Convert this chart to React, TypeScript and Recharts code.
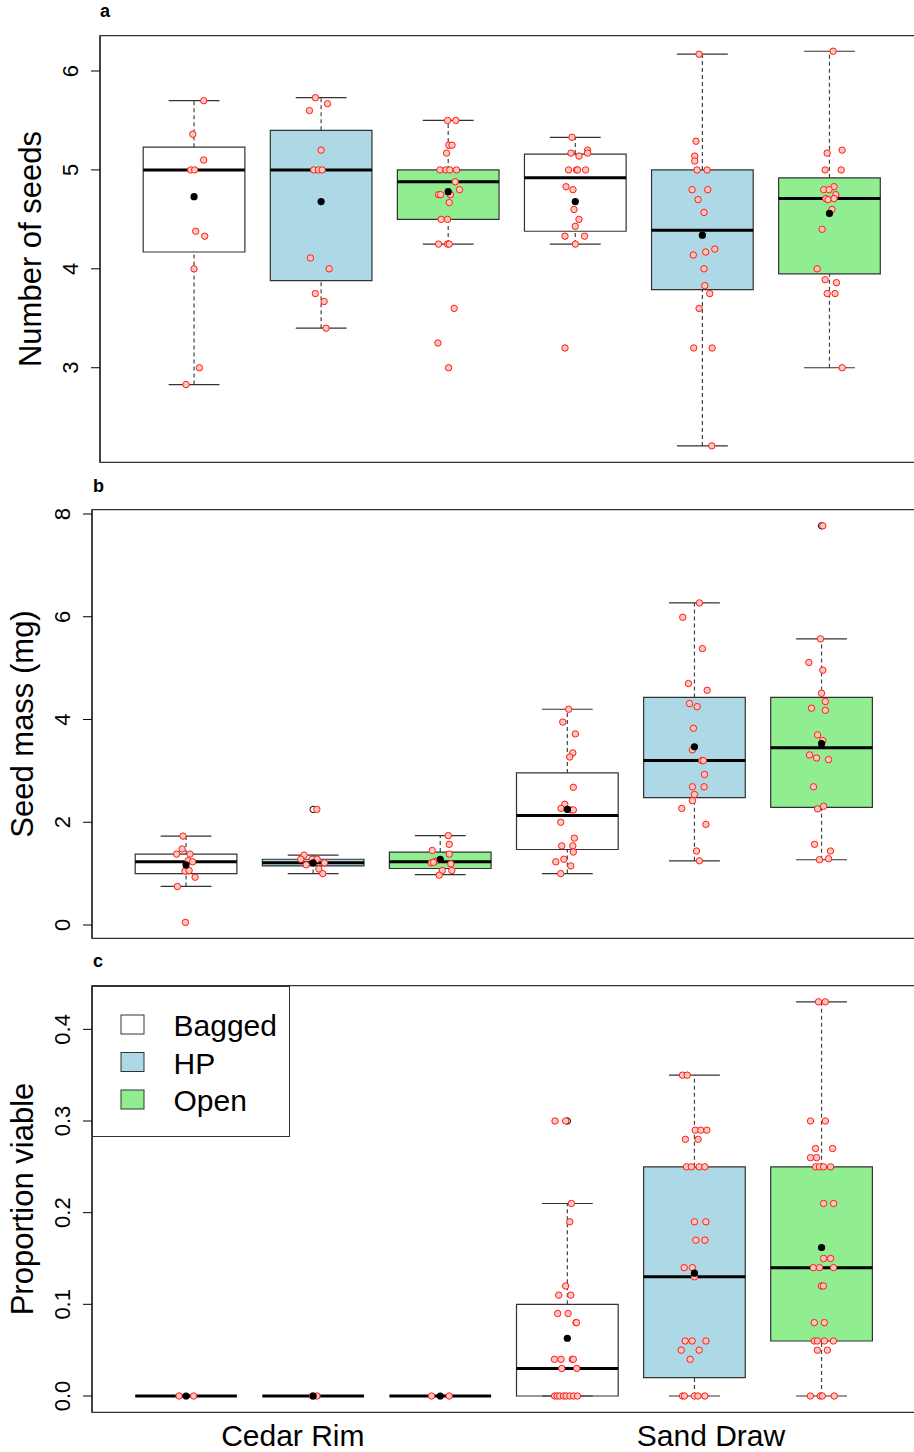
import React from "react";
import {
  ComposedChart,
  XAxis,
  YAxis,
  Scatter,
  ReferenceArea,
  ReferenceLine,
  Legend,
} from "recharts";

const FONT = "'Liberation Sans', Arial, Helvetica, sans-serif";

// ---------- shared ----------
const groupFills = ["#FFFFFF", "#ADD8E6", "#90EE90", "#FFFFFF", "#ADD8E6", "#90EE90"];
const legendLabels = ["Bagged", "HP", "Open"];
const legendFills = ["#FFFFFF", "#ADD8E6", "#90EE90"];
const siteLabels = ["Cedar Rim", "Sand Draw"];
const sitePositions = [1.84, 5.13];
const xDomain = [0.26, 6.74];
const panelLetters = ["a", "b", "c"];

// ---------- panel a : Number of seeds ----------
const aMin = [2.83, 3.4, 4.25, 4.25, 2.21, 3.0];
const aQ1 = [4.17, 3.88, 4.5, 4.38, 3.79, 3.95];
const aMed = [5.0, 5.0, 4.88, 4.92, 4.39, 4.71];
const aQ3 = [5.23, 5.4, 5.0, 5.16, 5.0, 4.92];
const aMax = [5.7, 5.73, 5.5, 5.33, 6.17, 6.2];
const aMean = [4.73, 4.68, 4.78, 4.68, 4.34, 4.56];
const aOutliers: number[][] = [];
const aTicks = [3, 4, 5, 6];
const aDomain = [2.044, 6.357];

const aPts1 = [[0.076, 5.7], [-0.01, 5.36], [0.076, 5.1], [-0.026, 5.0], [0.005, 5.0], [0.013, 4.38], [0.084, 4.33], [0, 4.0], [0.042, 3.0], [-0.063, 2.83]];
const aPts2 = [[-0.045, 5.73], [0.05, 5.67], [-0.092, 5.6], [0, 5.2], [-0.058, 5.0], [-0.021, 5.0], [0.008, 5.0], [-0.084, 4.11], [0.063, 4.0], [-0.045, 3.75], [0.024, 3.67], [0.039, 3.4]];
const aPts3 = [[-0.005, 5.5], [0.06, 5.5], [0.005, 5.25], [0.03, 5.25], [-0.013, 5.17], [-0.065, 5.0], [-0.018, 5.0], [0.013, 5.0], [0.065, 5.0], [0.055, 4.88], [0.089, 4.8], [-0.076, 4.75], [-0.06, 4.75], [0.018, 4.75], [0.008, 4.67], [-0.055, 4.5], [-0.005, 4.5], [-0.076, 4.25], [-0.005, 4.25], [0.008, 4.25], [0.047, 3.6], [-0.081, 3.25], [0.003, 3.0]];
const aPts4 = [[-0.026, 5.33], [-0.034, 5.17], [0.029, 5.14], [0.097, 5.2], [0.097, 5.17], [-0.053, 5.0], [0.01, 5.0], [0.018, 5.0], [0.081, 5.0], [-0.073, 4.83], [-0.018, 4.8], [-0.01, 4.6], [0.029, 4.5], [0, 4.43], [-0.081, 4.33], [0.073, 4.33], [0, 4.25], [-0.081, 3.2]];
const aPts5 = [[-0.026, 6.17], [-0.05, 5.29], [-0.06, 5.14], [-0.06, 5.09], [-0.042, 5.0], [0.037, 5.0], [-0.081, 4.8], [0.042, 4.8], [-0.034, 4.7], [0.013, 4.57], [0.098, 4.2], [0.026, 4.17], [-0.071, 4.14], [0.013, 4.0], [0.019, 3.83], [0.058, 3.75], [-0.026, 3.6], [-0.068, 3.2], [0.077, 3.2], [0.074, 2.21]];
const aPts6 = [[0.029, 6.2], [-0.018, 5.17], [0.1, 5.2], [-0.034, 5.0], [0.092, 5.0], [0.036, 4.83], [-0.045, 4.8], [-0.003, 4.8], [0.05, 4.75], [-0.029, 4.71], [-0.011, 4.7], [0.036, 4.71], [0.02, 4.6], [-0.058, 4.4], [-0.097, 4.0], [-0.034, 3.89], [0.055, 3.86], [-0.018, 3.75], [0.044, 3.75], [0.1, 3.0]];

// ---------- panel b : Seed mass ----------
const bMin = [0.75, 1.0, 0.98, 1.0, 1.25, 1.27];
const bQ1 = [1.0, 1.15, 1.1, 1.47, 2.48, 2.29];
const bMed = [1.23, 1.21, 1.23, 2.13, 3.2, 3.45];
const bQ3 = [1.38, 1.28, 1.42, 2.96, 4.43, 4.43];
const bMax = [1.73, 1.36, 1.74, 4.2, 6.27, 5.57];
const bMean = [1.17, 1.21, 1.28, 2.25, 3.47, 3.53];
const bOutliers = [[2, 2.25], [6, 7.77]];
const bTicks = [0, 2, 4, 6, 8];
const bDomain = [-0.259, 8.084];

const bPts1 = [[-0.024, 1.73], [-0.031, 1.48], [-0.074, 1.38], [0.031, 1.38], [0.016, 1.25], [0.052, 1.23], [-0.008, 1.05], [0.024, 1.06], [0.071, 0.93], [-0.068, 0.75], [-0.005, 0.05]];
const bPts2 = [[0.029, 2.25], [-0.071, 1.36], [-0.097, 1.28], [-0.008, 1.28], [0.031, 1.28], [0.089, 1.21], [-0.055, 1.17], [0.045, 1.09], [0.076, 1.0]];
const bPts3 = [[0.063, 1.74], [0.071, 1.57], [-0.063, 1.45], [0.071, 1.38], [-0.039, 1.24], [-0.071, 1.21], [-0.053, 1.22], [0.083, 1.19], [0.016, 1.06], [0.091, 1.06], [-0.008, 0.97]];
const bPts4 = [[0.01, 4.2], [-0.036, 3.95], [0.063, 3.72], [0.043, 3.35], [0.019, 3.27], [0.047, 2.68], [-0.02, 2.35], [-0.05, 2.27], [0.027, 2.24], [0.047, 2.24], [-0.052, 2.0], [0.055, 1.69], [-0.044, 1.54], [0.043, 1.54], [0.047, 1.42], [-0.028, 1.28], [-0.091, 1.23], [0.027, 1.15], [-0.052, 1.0]];
const bPts5 = [[0.039, 6.27], [-0.092, 5.99], [0.063, 5.38], [-0.047, 4.7], [0.1, 4.57], [-0.039, 4.31], [0.021, 4.25], [-0.008, 3.83], [-0.016, 3.41], [0.057, 3.2], [0.07, 3.2], [0.079, 2.93], [-0.016, 2.69], [0.076, 2.69], [0, 2.54], [-0.016, 2.42], [-0.1, 2.27], [0.09, 1.96], [0.016, 1.44], [0.039, 1.25]];
const bPts6 = [[0.01, 7.77], [-0.008, 5.57], [-0.1, 5.11], [0.01, 4.96], [0, 4.51], [0.03, 4.35], [-0.079, 4.22], [0.03, 4.18], [-0.031, 3.7], [0.01, 3.59], [-0.094, 3.31], [-0.039, 3.25], [0.055, 3.22], [-0.063, 2.69], [-0.031, 2.26], [0.016, 2.31], [-0.055, 1.57], [0.07, 1.44], [-0.016, 1.27], [0.055, 1.29]];

// ---------- panel c : Proportion viable ----------
const cMin = [0, 0, 0, 0, 0, 0];
const cQ1 = [0, 0, 0, 0, 0.02, 0.06];
const cMed = [0, 0, 0, 0.03, 0.13, 0.14];
const cQ3 = [0, 0, 0, 0.1, 0.25, 0.25];
const cMax = [0, 0, 0, 0.21, 0.35, 0.43];
const cMean = [0, 0, 0, 0.063, 0.134, 0.162];
const cOutliers = [[4, 0.3]];
const cTicks = [0, 0.1, 0.2, 0.3, 0.4];
const cDomain = [-0.0178, 0.4476];

const cPts1 = [[-0.055, 0], [0.06, 0]];
const cPts2 = [[-0.005, 0], [0.03, 0]];
const cPts3 = [[-0.069, 0], [0.07, 0]];
const cPts4 = [[-0.097, 0.3], [-0.013, 0.3], [0.032, 0.21], [0.019, 0.19], [-0.013, 0.12], [-0.068, 0.11], [0.027, 0.11], [-0.076, 0.09], [0.006, 0.09], [0.068, 0.08], [0.072, 0.08], [-0.102, 0.04], [-0.05, 0.04], [0.039, 0.04], [0.047, 0.04], [-0.044, 0.03], [0.074, 0.03], [-0.1, 0], [-0.08, 0], [-0.06, 0], [-0.03, 0], [-0.01, 0], [0.02, 0], [0.05, 0], [0.08, 0]];
const cPts5 = [[-0.094, 0.35], [-0.057, 0.35], [0.006, 0.29], [0.05, 0.29], [0.098, 0.29], [-0.071, 0.28], [0.029, 0.28], [-0.063, 0.25], [-0.024, 0.25], [0.037, 0.25], [0.082, 0.25], [0, 0.19], [0.09, 0.19], [0.011, 0.17], [0.082, 0.17], [-0.081, 0.14], [-0.016, 0.14], [0, 0.13], [-0.073, 0.06], [-0.018, 0.06], [0.09, 0.06], [-0.104, 0.05], [0.037, 0.05], [-0.034, 0.04], [-0.094, 0], [-0.079, 0], [0, 0], [0.027, 0], [0.082, 0]];
const cPts6 = [[-0.024, 0.43], [0.03, 0.43], [-0.087, 0.3], [0.03, 0.3], [-0.047, 0.27], [0.087, 0.27], [-0.087, 0.26], [-0.039, 0.26], [-0.047, 0.25], [-0.016, 0.25], [0.016, 0.25], [0.071, 0.25], [0.016, 0.21], [0.095, 0.21], [0.016, 0.15], [0.071, 0.15], [-0.065, 0.14], [-0.016, 0.14], [0.094, 0.14], [-0.002, 0.12], [0.014, 0.12], [-0.057, 0.08], [0.022, 0.08], [-0.057, 0.06], [-0.033, 0.06], [0.022, 0.06], [0.093, 0.06], [-0.033, 0.05], [0.046, 0.05], [-0.088, 0], [-0.01, 0], [0.006, 0], [0.1, 0]];

// ---------- shapes ----------
const RedDot = (p: any) =>
  p.cx == null ? null : (
    <circle cx={p.cx} cy={p.cy} r={3.2} fill="#FFC8BC" stroke="#FF1A1A" strokeWidth={1} />
  );
const MeanDot = (p: any) =>
  p.cx == null ? null : <circle cx={p.cx} cy={p.cy} r={3.6} fill="#000" />;
const OutDot = (p: any) =>
  p.cx == null ? null : (
    <circle cx={p.cx} cy={p.cy} r={3.2} fill="none" stroke="#000" strokeWidth={1} />
  );

const makeYTick = (fmt: (v: number) => string) => (props: any) => {
  const { x, y, payload } = props;
  return (
    <text
      x={x}
      y={y}
      transform={`rotate(-90, ${x}, ${y})`}
      textAnchor="middle"
      fontFamily={FONT}
      fontSize={22}
      fill="#000"
    >
      {fmt(payload.value)}
    </text>
  );
};

const SiteTick = (props: any) => {
  const { x, y, payload } = props;
  const idx = sitePositions.indexOf(payload.value);
  return (
    <text x={x} y={y + 33.7} textAnchor="middle" fontFamily={FONT} fontSize={30} fill="#000">
      {siteLabels[idx]}
    </text>
  );
};

const LegendBox = () => (
  <div
    style={{
      width: 198,
      height: 151,
      border: "1px solid #333",
      background: "#fff",
      boxSizing: "border-box",
    }}
  >
    <svg width={198} height={151}>
      {legendLabels.map((lab, i) => (
        <g key={lab}>
          <rect x={28} y={28 + i * 37.5} width={23} height={19} fill={legendFills[i]} stroke="#333" strokeWidth={1} />
          <text x={80.5} y={49 + i * 37.5} fontFamily={FONT} fontSize={30} fill="#000">
            {lab}
          </text>
        </g>
      ))}
    </svg>
  </div>
);

type PanelProps = {
  top: number;
  height: number;
  mLeft: number;
  mRight: number;
  mTop: number;
  mBottom: number;
  xAxisHeight: number;
  yDomain: number[];
  yTicks: number[];
  fmt: (v: number) => string;
  yLabel: string;
  mins: number[];
  q1s: number[];
  meds: number[];
  q3s: number[];
  maxs: number[];
  means: number[];
  points: number[][][];
  outliers: number[][];
  showSites: boolean;
  showLegend: boolean;
};

function Panel(P: PanelProps) {
  const pointData = P.points.flatMap((g, i) => g.map(([dx, v]) => ({ x: i + 1 + dx, y: v })));
  const meanData = P.means.map((m, i) => ({ x: i + 1, y: m }));
  const outData = P.outliers.map(([g, v]) => ({ x: g, y: v }));
  const YTick = makeYTick(P.fmt);
  const refs: React.ReactNode[] = [];
  P.meds.forEach((med, i) => {
    const xc = i + 1;
    refs.push(
      <ReferenceLine key={`wl${i}`} segment={[{ x: xc, y: P.mins[i] }, { x: xc, y: P.q1s[i] }]} stroke="#444" strokeWidth={1.2} strokeDasharray="4 3" ifOverflow="visible" />,
      <ReferenceLine key={`wu${i}`} segment={[{ x: xc, y: P.q3s[i] }, { x: xc, y: P.maxs[i] }]} stroke="#444" strokeWidth={1.2} strokeDasharray="4 3" ifOverflow="visible" />,
      <ReferenceLine key={`cl${i}`} segment={[{ x: xc - 0.2, y: P.mins[i] }, { x: xc + 0.2, y: P.mins[i] }]} stroke="#333" strokeWidth={1.2} ifOverflow="visible" />,
      <ReferenceLine key={`cu${i}`} segment={[{ x: xc - 0.2, y: P.maxs[i] }, { x: xc + 0.2, y: P.maxs[i] }]} stroke="#333" strokeWidth={1.2} ifOverflow="visible" />,
      <ReferenceArea key={`bx${i}`} x1={xc - 0.4} x2={xc + 0.4} y1={P.q1s[i]} y2={P.q3s[i]} fill={groupFills[i]} fillOpacity={1} stroke="#333" strokeWidth={1.2} ifOverflow="visible" />,
      <ReferenceLine key={`md${i}`} segment={[{ x: xc - 0.4, y: med }, { x: xc + 0.4, y: med }]} stroke="#000" strokeWidth={3} ifOverflow="visible" />
    );
  });
  return (
    <div style={{ position: "absolute", left: 0, top: P.top }}>
      <ComposedChart
        width={940}
        height={P.height}
        margin={{ top: P.mTop, right: P.mRight, bottom: P.mBottom, left: P.mLeft }}
      >
        <XAxis
          type="number"
          dataKey="x"
          domain={xDomain}
          allowDataOverflow
          ticks={P.showSites ? sitePositions : []}
          interval={0}
          height={P.xAxisHeight}
          axisLine={false}
          tickLine={false}
          tickSize={0}
          tickMargin={0}
          tick={P.showSites ? SiteTick : false}
        />
        <YAxis
          type="number"
          dataKey="y"
          domain={P.yDomain}
          allowDataOverflow
          ticks={P.yTicks}
          interval={0}
          width={60}
          tickSize={9}
          tickMargin={12.5}
          axisLine={{ stroke: "#000" }}
          tickLine={{ stroke: "#000" }}
          tick={YTick}
          label={{
            content: (lp: any) => {
              const vb = lp.viewBox || { x: 0, y: 0, width: 60, height: 400 };
              const lx = vb.x + vb.width - 59;
              const ly = vb.y + vb.height / 2;
              return (
                <text x={lx} y={ly} transform={`rotate(-90, ${lx}, ${ly})`} textAnchor="middle" fontFamily={FONT} fontSize={31} fill="#000">
                  {P.yLabel}
                </text>
              );
            },
          }}
        />
        <ReferenceArea x1={xDomain[0]} x2={xDomain[1]} y1={P.yDomain[0]} y2={P.yDomain[1]} fill="none" stroke="#333" strokeWidth={1.2} ifOverflow="visible" />
        {refs}
        <Scatter data={outData} shape={OutDot} isAnimationActive={false} />
        <Scatter data={pointData} shape={RedDot} isAnimationActive={false} />
        <Scatter data={meanData} shape={MeanDot} isAnimationActive={false} />
        {P.showLegend ? (
          <Legend
            layout="vertical"
            align="center"
            verticalAlign="middle"
            content={LegendBox}
            wrapperStyle={{ left: P.mLeft + 60, top: P.mTop, width: 198, height: 151 }}
          />
        ) : null}
      </ComposedChart>
    </div>
  );
}

export default function App() {
  return (
    <div
      style={{
        position: "absolute",
        left: 0,
        top: 0,
        width: 914,
        height: 1452,
        overflow: "hidden",
        background: "#fff",
      }}
    >
      <Panel
        top={0} height={475} mLeft={40} mRight={16.5} mTop={35.7} mBottom={12.7} xAxisHeight={0}
        yDomain={aDomain} yTicks={aTicks} fmt={(v) => String(v)} yLabel="Number of seeds"
        mins={aMin} q1s={aQ1} meds={aMed} q3s={aQ3} maxs={aMax} means={aMean}
        points={[aPts1, aPts2, aPts3, aPts4, aPts5, aPts6]} outliers={aOutliers}
        showSites={false} showLegend={false}
      />
      <Panel
        top={475} height={475} mLeft={32} mRight={24.4} mTop={34.7} mBottom={11.7} xAxisHeight={0}
        yDomain={bDomain} yTicks={bTicks} fmt={(v) => String(v)} yLabel="Seed mass (mg)"
        mins={bMin} q1s={bQ1} meds={bMed} q3s={bQ3} maxs={bMax} means={bMean}
        points={[bPts1, bPts2, bPts3, bPts4, bPts5, bPts6]} outliers={bOutliers}
        showSites={false} showLegend={false}
      />
      <Panel
        top={950} height={502} mLeft={32} mRight={24.4} mTop={35.7} mBottom={0} xAxisHeight={39.7}
        yDomain={cDomain} yTicks={cTicks} fmt={(v) => v.toFixed(1)} yLabel="Proportion viable"
        mins={cMin} q1s={cQ1} meds={cMed} q3s={cQ3} maxs={cMax} means={cMean}
        points={[cPts1, cPts2, cPts3, cPts4, cPts5, cPts6]} outliers={cOutliers}
        showSites={true} showLegend={true}
      />
      <svg width={914} height={1452} style={{ position: "absolute", left: 0, top: 0, pointerEvents: "none" }}>
        <text x={100} y={17.3} fontFamily={FONT} fontSize={18} fontWeight="bold">{panelLetters[0]}</text>
        <text x={93} y={491.7} fontFamily={FONT} fontSize={18} fontWeight="bold">{panelLetters[1]}</text>
        <text x={93} y={967.3} fontFamily={FONT} fontSize={18} fontWeight="bold">{panelLetters[2]}</text>
      </svg>
    </div>
  );
}
